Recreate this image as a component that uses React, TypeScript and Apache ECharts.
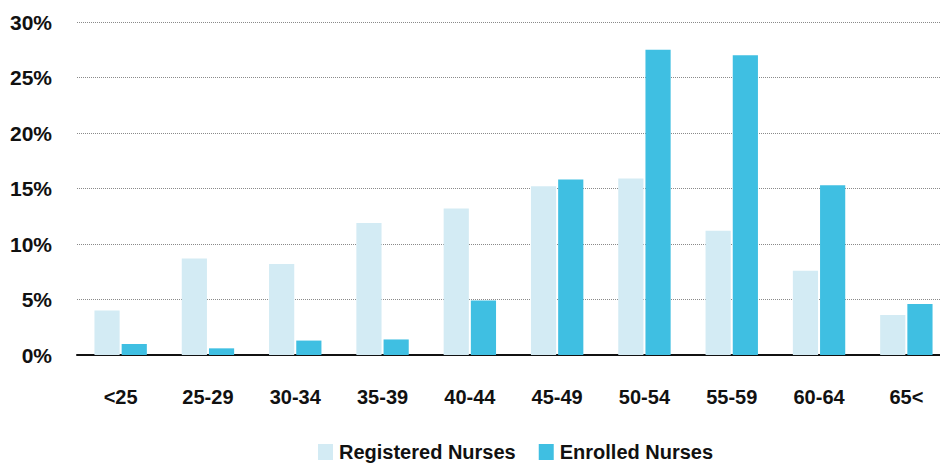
import React, { useEffect, useRef } from "react";
import * as echarts from "echarts";

const ageGroups = ["<25", "25-29", "30-34", "35-39", "40-44", "45-49", "50-54", "55-59", "60-64", "65<"];
const registeredNurses = [4.0, 8.7, 8.2, 11.9, 13.2, 15.2, 15.9, 11.2, 7.6, 3.6];
const enrolledNurses = [1.0, 0.6, 1.3, 1.4, 4.9, 15.8, 27.5, 27.0, 15.3, 4.6];
const yTicks = [0, 5, 10, 15, 20, 25, 30];

const FONT = "'Liberation Sans', Arial, Helvetica, sans-serif";

export default function App() {
  const ref = useRef<HTMLDivElement>(null);

  useEffect(() => {
    if (!ref.current) return;
    const chart = echarts.init(ref.current, null, { renderer: "svg" });
    chart.setOption({
      animation: false,
      backgroundColor: "#ffffff",
      grid: { left: 77, right: 0, top: 22, bottom: 108, containLabel: false },
      legend: {
        top: 442,
        left: 318,
        padding: 0,
        itemWidth: 15,
        itemHeight: 16,
        itemGap: 23,
        icon: "rect",
        textStyle: { fontFamily: FONT, fontSize: 20, fontWeight: "bold", color: "#111", padding: [0, 0, 0, 1] },
        data: ["Registered Nurses", "Enrolled Nurses"],
      },
      xAxis: {
        type: "category",
        data: ageGroups,
        axisLine: { show: true, lineStyle: { color: "#111", width: 2 } },
        axisTick: { show: false },
        axisLabel: {
          margin: 32,
          fontFamily: FONT,
          fontSize: 20,
          fontWeight: "bold",
          color: "#111",
        },
      },
      yAxis: {
        type: "value",
        min: yTicks[0],
        max: yTicks[yTicks.length - 1],
        interval: 5,
        axisLine: { show: false },
        axisTick: { show: false },
        axisLabel: {
          margin: 25,
          fontFamily: FONT,
          fontSize: 21,
          fontWeight: "bold",
          color: "#111",
          formatter: (v: number) => `${v}%`,
        },
        splitLine: { show: true, lineStyle: { color: "#8a8a8a", type: [1, 1], width: 1 } },
      },
      series: [
        {
          name: "Registered Nurses",
          type: "bar",
          data: registeredNurses,
          itemStyle: { color: "#d3ebf4" },
          barGap: "8%",
          barCategoryGap: "40%",
        },
        {
          name: "Enrolled Nurses",
          type: "bar",
          data: enrolledNurses,
          itemStyle: { color: "#3fbfe2" },
          barGap: "8%",
          barCategoryGap: "40%",
        },
      ],
    });
    return () => chart.dispose();
  }, []);

  return (
    <div style={{ position: "absolute", left: 0, top: 0, width: 940, height: 463, overflow: "hidden" }}>
      <div ref={ref} style={{ width: 950, height: 463 }} />
    </div>
  );
}
